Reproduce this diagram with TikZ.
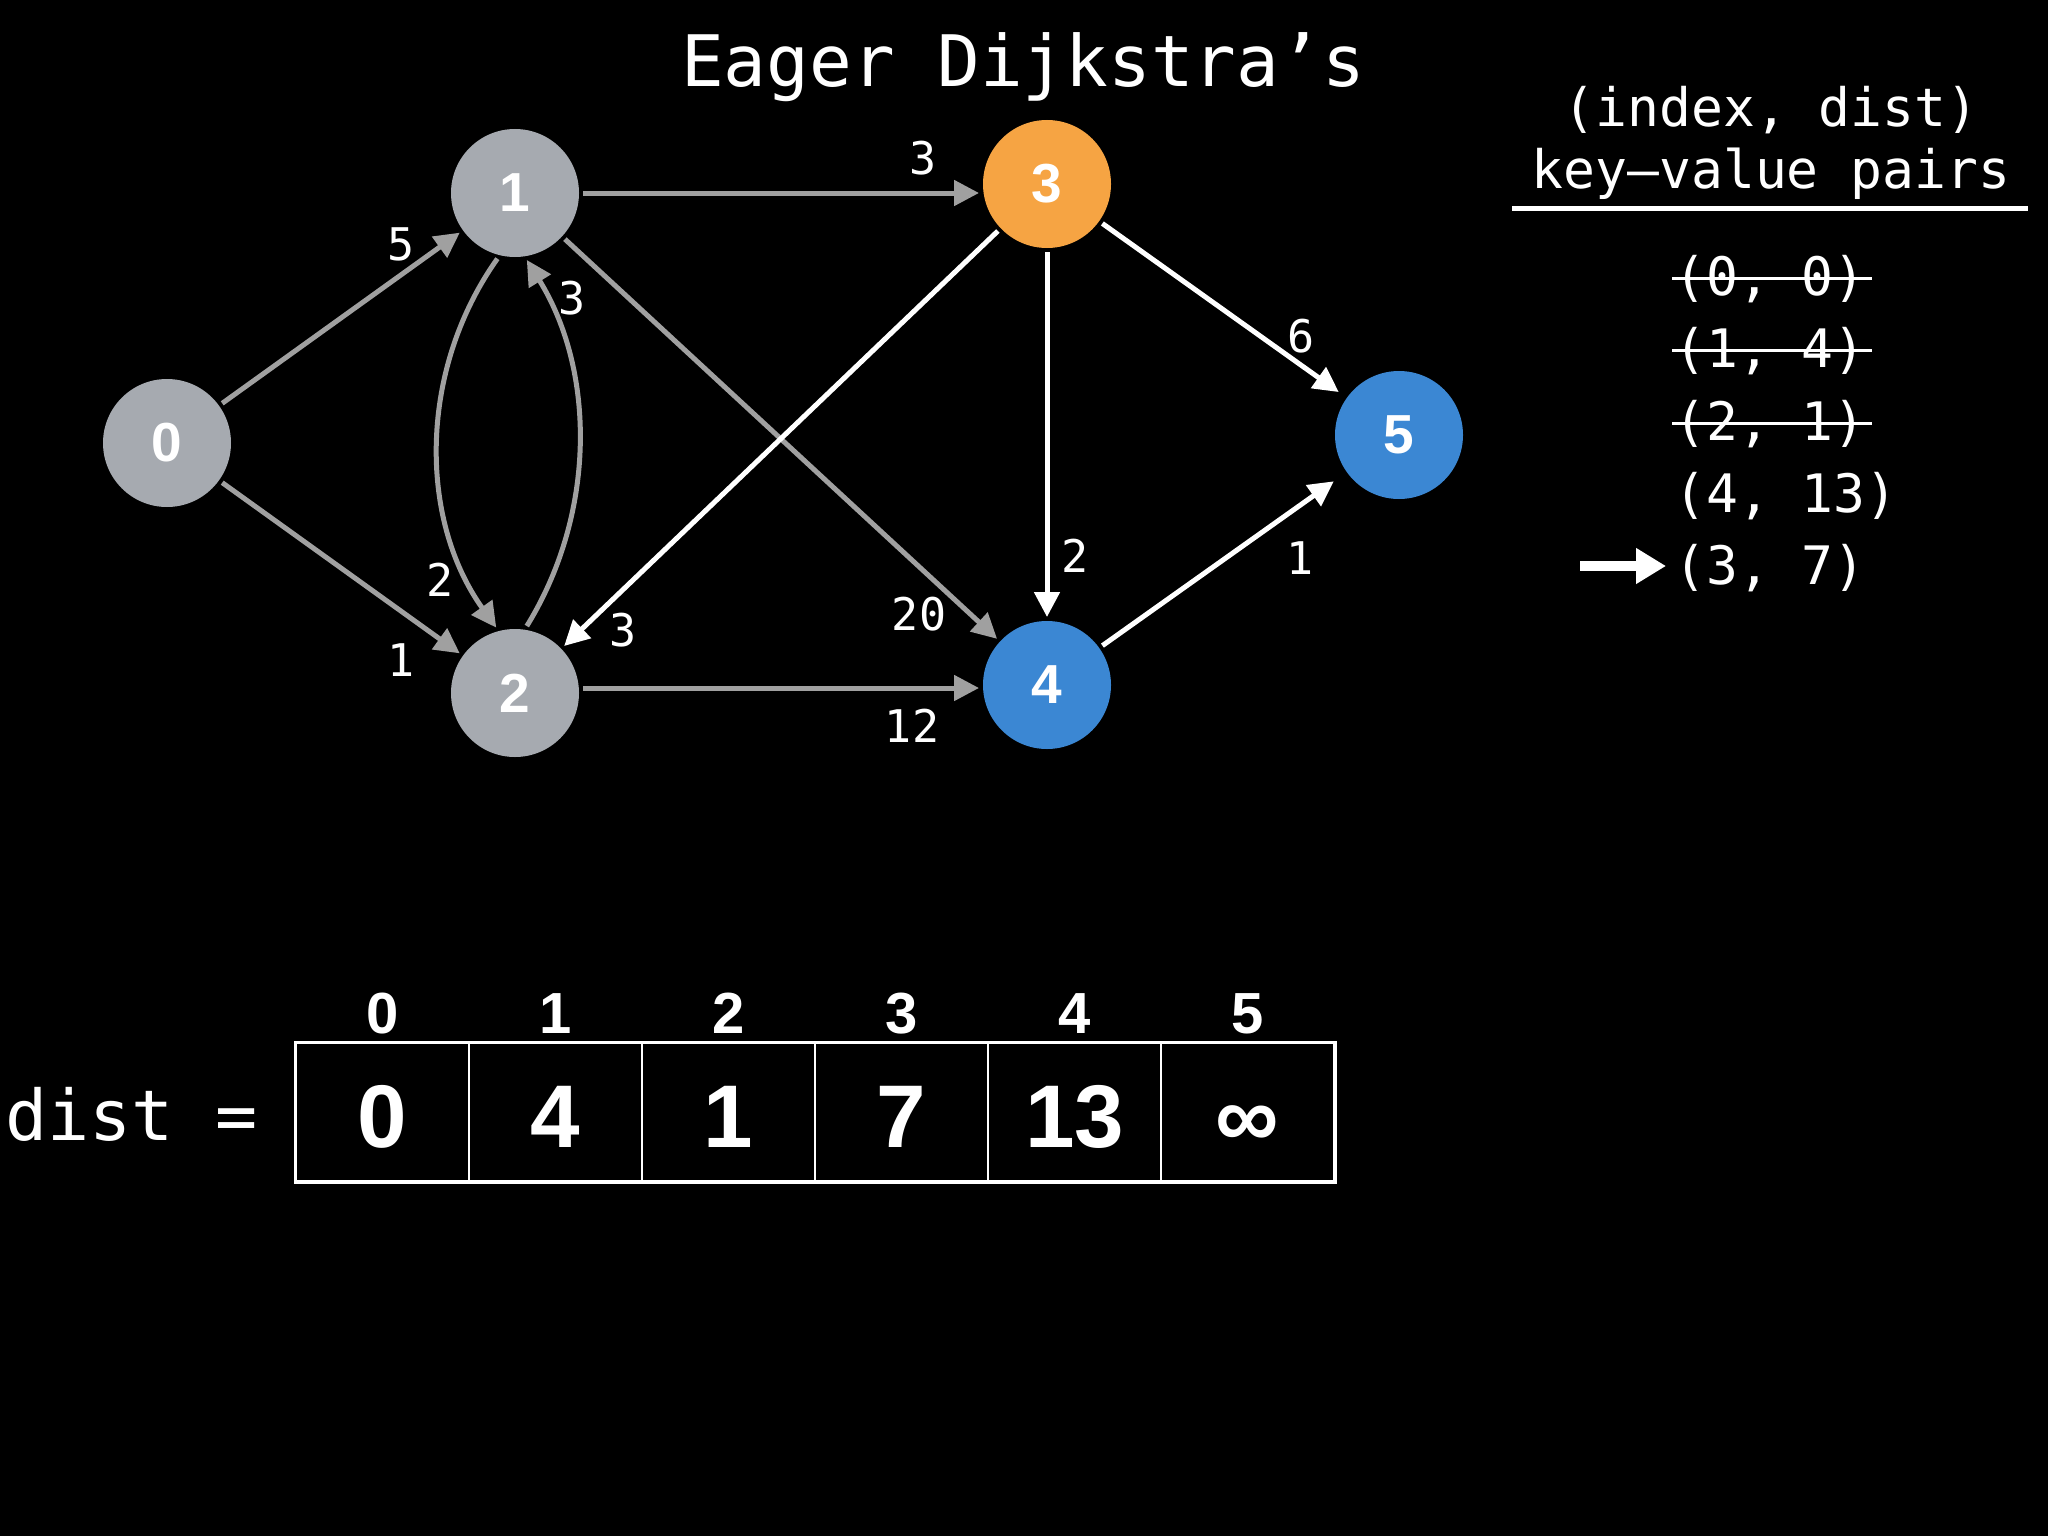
\documentclass[tikz,border=0pt]{standalone}
\usepackage{fontspec}
\setmonofont{DejaVu Sans Mono}
\setsansfont{Liberation Sans}
\usetikzlibrary{arrows.meta}
\definecolor{nodegray}{RGB}{166,170,176}
\definecolor{nodeorange}{RGB}{246,164,67}
\definecolor{nodeblue}{RGB}{59,135,211}
\definecolor{edgegray}{RGB}{160,160,160}
\begin{document}
\begin{tikzpicture}[x=1pt,y=-1pt,
  vtx/.style={circle, minimum size=128pt, inner sep=0pt, outer sep=4pt, text=white,
    font=\fontsize{55}{60}\sffamily\bfseries},
  gedge/.style={draw=edgegray, line width=5pt, -{Triangle[length=25pt,width=25pt]}},
  wedge/.style={draw=white, line width=5pt, -{Triangle[length=25pt,width=25pt]}},
  elabel/.style={text=white, inner sep=0pt, font=\fontsize{45}{50}\ttfamily},
  pairtxt/.style={text=white, inner xsep=2pt, inner ysep=0pt, anchor=base west,
    font=\fontsize{53}{60}\ttfamily},
  headtxt/.style={text=white, inner sep=0pt, anchor=base, font=\fontsize{53}{60}\ttfamily},
  strike/.style={draw=white, line width=3.5pt},
  cell/.style={draw=white, line width=2pt, minimum width=173pt, minimum height=138pt,
    inner sep=0pt, text height=70pt, text depth=0pt, text=white,
    font=\fontsize{89}{100}\sffamily\bfseries},
  idx/.style={text=white, inner sep=0pt, anchor=base, font=\fontsize{58}{64}\sffamily\bfseries}
]
\fill[black] (0,0) rectangle (2048,1536);
\useasboundingbox (0,0) rectangle (2048,1536);

% title
\node[text=white, inner sep=0pt, anchor=base, font=\fontsize{71}{80}\ttfamily] (title) at (1023,87) {Eager Dijkstra’s};

% vertices
\node[vtx, fill=nodegray] (n0) at (167,443) {0};
\node[vtx, fill=nodegray] (n1) at (515,193) {1};
\node[vtx, fill=nodegray] (n2) at (515,693) {2};
\node[vtx, fill=nodeorange] (n3) at (1047,184) {3};
\node[vtx, fill=nodeblue] (n4) at (1047,685) {4};
\node[vtx, fill=nodeblue] (n5) at (1399,435) {5};

% gray edges
\draw[gedge] (n0) -- (n1);
\draw[gedge] (n0) -- (n2);
\draw[gedge] (n1) -- (n1 -| n3.west);
\draw[gedge] (n1.255) .. controls (419,369) and (418,518) .. (n2.106);
\draw[gedge] (n2.80) .. controls (596,514) and (596,372) .. (n1.280);
\draw[gedge] (n1) -- (n4);
\draw[gedge] ([yshift=5pt]n2.east) -- ([yshift=5pt]n2.east -| n4.west);
% white edges
\draw[wedge] (n3) -- (n2);
\draw[wedge] (n3) -- (n4);
\draw[wedge, shorten >=6pt] (n3) -- (n5);
\draw[wedge, shorten >=12pt] (n4) -- (n5);

% edge labels
\node[elabel] (l13) at (923,158) {3};
\node[elabel] (l01) at (401,244) {5};
\node[elabel] (l21) at (572,298) {3};
\node[elabel] (l12) at (440,580) {2};
\node[elabel] (l02) at (401,660) {1};
\node[elabel] (l32) at (623,630) {3};
\node[elabel] (l14) at (919,614) {20};
\node[elabel] (l34) at (1075,556) {2};
\node[elabel] (l24) at (912,726) {12};
\node[elabel] (l35) at (1301,336) {6};
\node[elabel] (l45) at (1300,558) {1};

% priority queue panel
\node[headtxt] (h1) at (1771,127) {(index, dist)};
\node[headtxt] (h2) at (1771,189) {key–value pairs};
\coordinate (hl) at (1512,208);
\coordinate (hr) at (2028,208);
\draw[white, line width=5pt] (hl) -- (hr);

\node[pairtxt] (p0) at (1672,295) {(0, 0)};
\node[pairtxt] (p1) at (1672,367) {(1, 4)};
\node[pairtxt] (p2) at (1672,440) {(2, 1)};
\node[pairtxt] (p3) at (1672,512) {(4, 13)};
\node[pairtxt] (p4) at (1672,584) {(3, 7)};
\draw[strike] (p0.west) -- ([xshift=4pt]p0.east);
\draw[strike] (p1.west) -- ([xshift=4pt]p1.east);
\draw[strike] (p2.west) -- ([xshift=4pt]p2.east);
\coordinate (pa) at (1580,566);
\draw[white, line width=10pt, -{Triangle[length=30pt,width=34pt]}] (pa) -- ([xshift=-6pt]pa -| p4.west);

% dist array
\node[text=white, inner sep=0pt, anchor=base west, font=\fontsize{70}{80}\ttfamily] (dl) at (5,1140) {dist =};
\node[cell] (c0) at (382.5,1112) {0};
\node[cell] (c1) at (555.5,1112) {4};
\node[cell] (c2) at (728.5,1112) {1};
\node[cell] (c3) at (901.5,1112) {7};
\node[cell] (c4) at (1074.5,1112) {13};
\node[cell] (c5) at (1247.5,1112) {∞};
\draw[white, line width=3pt] (c0.north west) rectangle (c5.south east);
\node[idx] (i0) at (382.5,1033) {0};
\node[idx] (i1) at (555.5,1033) {1};
\node[idx] (i2) at (728.5,1033) {2};
\node[idx] (i3) at (901.5,1033) {3};
\node[idx] (i4) at (1074.5,1033) {4};
\node[idx] (i5) at (1247.5,1033) {5};
\end{tikzpicture}
\end{document}
